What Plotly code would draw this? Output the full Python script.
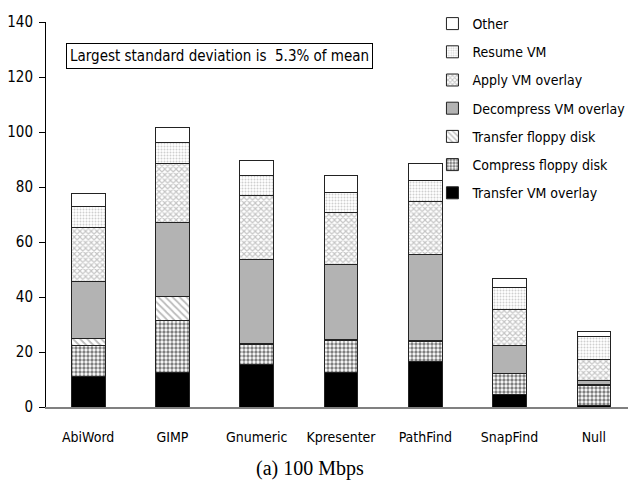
import plotly.graph_objects as go

categories = ["AbiWord", "GIMP", "Gnumeric", "Kpresenter", "PathFind", "SnapFind", "Null"]

transfer_vm_overlay = [11.0, 12.6, 15.3, 12.6, 16.5, 4.7, 0.5]
compress_floppy = [11.3, 19.0, 7.5, 11.5, 7.5, 7.5, 7.5]
transfer_floppy = [2.5, 8.5, 0.2, 0.6, 0.1, 0.1, 0.1]
decompress_vm_overlay = [20.8, 27.1, 30.8, 27.2, 31.4, 10.1, 1.6]
apply_vm_overlay = [19.6, 21.2, 23.0, 18.9, 19.2, 12.9, 7.6]
resume_vm = [7.6, 7.7, 7.3, 7.3, 7.6, 8.2, 8.5]
other = [4.9, 5.5, 5.4, 6.1, 6.3, 3.3, 1.8]

y_ticks = [0, 20, 40, 60, 80, 100, 120, 140]
note_text = "Largest standard deviation is  5.3% of mean"
caption = "(a) 100 Mbps"

FONT = "Liberation Sans Narrow, Arial Narrow, DejaVu Sans Condensed, Roboto Condensed, Liberation Sans, sans-serif"

series = [
    ("Transfer VM overlay", transfer_vm_overlay, dict(color="black")),
    ("Compress floppy disk", compress_floppy,
     dict(color="white", pattern=dict(shape=".", fgcolor="black", bgcolor="white", size=4, solidity=0.55, fillmode="overlay"))),
    ("Transfer floppy disk", transfer_floppy,
     dict(color="white", pattern=dict(shape="\\", fgcolor="#777777", bgcolor="white", size=5, solidity=0.35, fillmode="overlay"))),
    ("Decompress VM overlay", decompress_vm_overlay, dict(color="#b3b3b3")),
    ("Apply VM overlay", apply_vm_overlay,
     dict(color="white", pattern=dict(shape="x", fgcolor="#8c8c8c", bgcolor="white", size=4, solidity=0.5, fillmode="overlay"))),
    ("Resume VM", resume_vm,
     dict(color="white", pattern=dict(shape=".", fgcolor="#a0a0a0", bgcolor="white", size=3, solidity=0.35, fillmode="overlay"))),
    ("Other", other, dict(color="white")),
]

fig = go.Figure()
for i, (name, vals, mk) in enumerate(series):
    mk = dict(mk)
    mk["line"] = dict(color="#222222", width=1)
    fig.add_trace(go.Bar(x=categories, y=vals, name=name, marker=mk,
                         width=0.4, legendgroup=f"g{i}", legendrank=100 - i))

fig.update_layout(
    barmode="stack",
    width=628, height=473,
    margin=dict(l=38, r=0, t=14, b=74, autoexpand=False),
    plot_bgcolor="white", paper_bgcolor="white",
    font=dict(family=FONT, size=14, color="black"),
    legend=dict(x=0.655, xanchor="left", yref="container", y=1.0, yanchor="top",
                traceorder="grouped", tracegroupgap=7,
                bgcolor="rgba(0,0,0,0)", font=dict(family=FONT, size=14),
                itemwidth=30),
    xaxis=dict(showline=True, linecolor="#808080", linewidth=1.5, ticks="",
               ticklabelstandoff=16, tickfont=dict(family=FONT, size=14)),
    yaxis=dict(range=[0, 140], tickvals=y_ticks, showline=True, linecolor="black",
               linewidth=1, ticks="outside", ticklen=6, tickcolor="black",
               ticklabelstandoff=3,
               showgrid=False, zeroline=False, tickfont=dict(family=FONT, size=15)),
    annotations=[
        dict(text=note_text, xref="paper", yref="y", x=0.294, y=127.8,
             xanchor="center", yanchor="middle",
             showarrow=False, bordercolor="black", borderwidth=1, borderpad=3,
             bgcolor="white", font=dict(family=FONT, size=15)),
        dict(text=caption, xref="paper", yref="paper", x=0.447, y=-0.16,
             xanchor="center", yanchor="middle",
             showarrow=False, font=dict(family="Liberation Serif, Times New Roman, serif", size=20)),
    ],
)

fig.write_html("out.html")
